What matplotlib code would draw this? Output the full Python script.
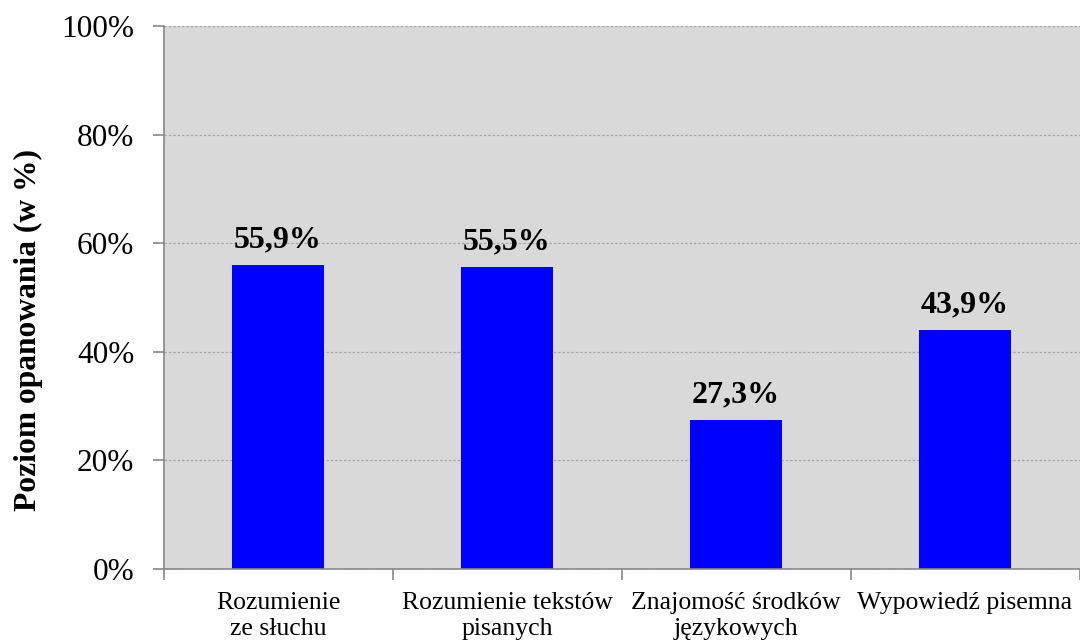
import matplotlib.pyplot as plt
import numpy as np

# dane
kategorie = ["Rozumienie\nze słuchu", "Rozumienie tekstów\npisanych",
             "Znajomość środków\njęzykowych", "Wypowiedź pisemna"]
wartosci = [55.9, 55.5, 27.3, 43.9]
etykiety = ["55,9%", "55,5%", "27,3%", "43,9%"]
yticks = [0, 20, 40, 60, 80, 100]

plt.rcParams['font.family'] = ['Liberation Serif', 'DejaVu Serif']

fig = plt.figure(figsize=(10.8, 6.43), dpi=100)
ax = fig.add_axes([163.5 / 1080, 1 - 568.5 / 643, 916 / 1080, 542.5 / 643])
ax.set_facecolor('#D9D9D9')

x = np.arange(len(kategorie))
ax.bar(x, wartosci, width=0.4, color='#0000FF', zorder=3)

ax.set_xlim(-0.5, len(kategorie) - 0.5)
ax.set_ylim(0, 100)
ax.set_yticks(yticks)
ax.set_yticklabels([f"{v}%" for v in yticks], fontsize=22.5)
ax.yaxis.grid(True, color='#A6A6A6', linestyle=(0, (2, 1.5)), linewidth=0.9, zorder=0)

# kategorie pod slupkami, kreski na granicach
ax.set_xticks(x)
ax.set_xticklabels(kategorie, fontsize=18.5, linespacing=1.25)
ax.tick_params(axis='x', length=0, pad=17)
ax.set_xticks(np.arange(-0.5, len(kategorie)), minor=True)
ax.tick_params(axis='x', which='minor', length=8, color='#878787', width=1.2)
ax.tick_params(axis='y', length=8, color='#878787', width=1.2, pad=13)

for s in ['top', 'right']:
    ax.spines[s].set_visible(False)
for s in ['left', 'bottom']:
    ax.spines[s].set_color('#878787')
    ax.spines[s].set_linewidth(1.2)
ax.spines['bottom'].set_zorder(4)

for xi, v, t in zip(x, wartosci, etykiety):
    ax.annotate(t, (xi, v), xytext=(0, 13), textcoords='offset points',
                ha='center', va='baseline', fontsize=23, fontweight='bold')

fig.text(28 / 1080, 1 - 330 / 643, "Poziom opanowania (w %)", rotation=90,
         ha='center', va='center', fontsize=22.7, fontweight='bold')

fig.savefig("out.png", dpi=100)
